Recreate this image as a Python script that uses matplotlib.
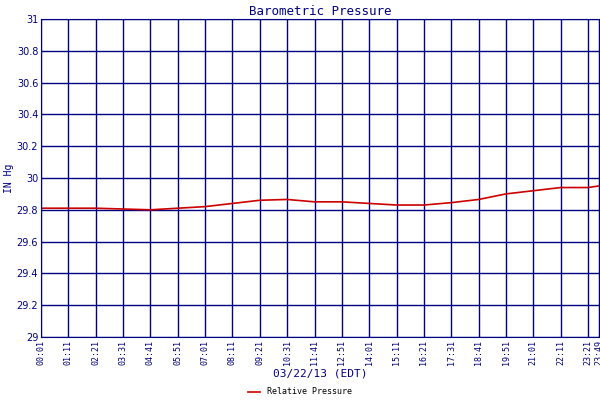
import matplotlib
matplotlib.use("Agg")
import matplotlib.pyplot as plt

tick_labels = ["00:01","01:11","02:21","03:31","04:41","05:51","07:01","08:11","09:21","10:31","11:41",
               "12:51","14:01","15:11","16:21","17:31","18:41","19:51","21:01","22:11","23:21","23:49"]
pressure = [29.81,29.81,29.81,29.805,29.80,29.81,29.82,29.84,29.86,29.865,29.85,
            29.85,29.84,29.83,29.83,29.845,29.865,29.90,29.92,29.94,29.94,29.95]
y_ticks = [29,29.2,29.4,29.6,29.8,30,30.2,30.4,30.6,30.8,31]
y_labels = ["29","29.2","29.4","29.6","29.8","30","30.2","30.4","30.6","30.8","31"]

def tomin(s):
    h, m = s.split(":")
    return int(h)*60+int(m)
xs = [tomin(t) for t in tick_labels]

navy = "#000080"
fig = plt.figure(figsize=(6,4), dpi=100)
ax = fig.add_axes([41/600, 63/400, 558/600, 318/400])
ax.plot(xs, pressure, color="#cc0000", lw=1.2, label="Relative Pressure")
ax.set_xlim(xs[0], xs[-1]); ax.set_ylim(29, 31)
ax.set_xticks(xs); ax.set_xticklabels(tick_labels, rotation=90, fontsize=6, family="DejaVu Sans Mono", color=navy)
ax.set_yticks(y_ticks); ax.set_yticklabels(y_labels, fontsize=7, color=navy)
ax.grid(True, color=navy, lw=1)
ax.tick_params(length=0, pad=2)
for s in ax.spines.values():
    s.set_color(navy)
ax.set_title("Barometric Pressure", color=navy, fontsize=9, family="DejaVu Sans Mono", pad=3)
ax.set_xlabel("03/22/13 (EDT)", color=navy, fontsize=8, family="DejaVu Sans Mono", labelpad=3)
ax.set_ylabel("IN Hg", color=navy, fontsize=7, family="DejaVu Sans Mono", labelpad=2)
fig.legend(loc="lower center", bbox_to_anchor=(0.5, -0.01), frameon=False, fontsize=6,
           handlelength=1.5, prop={"family": "DejaVu Sans Mono", "size": 6})
fig.savefig("out.png", dpi=100)
